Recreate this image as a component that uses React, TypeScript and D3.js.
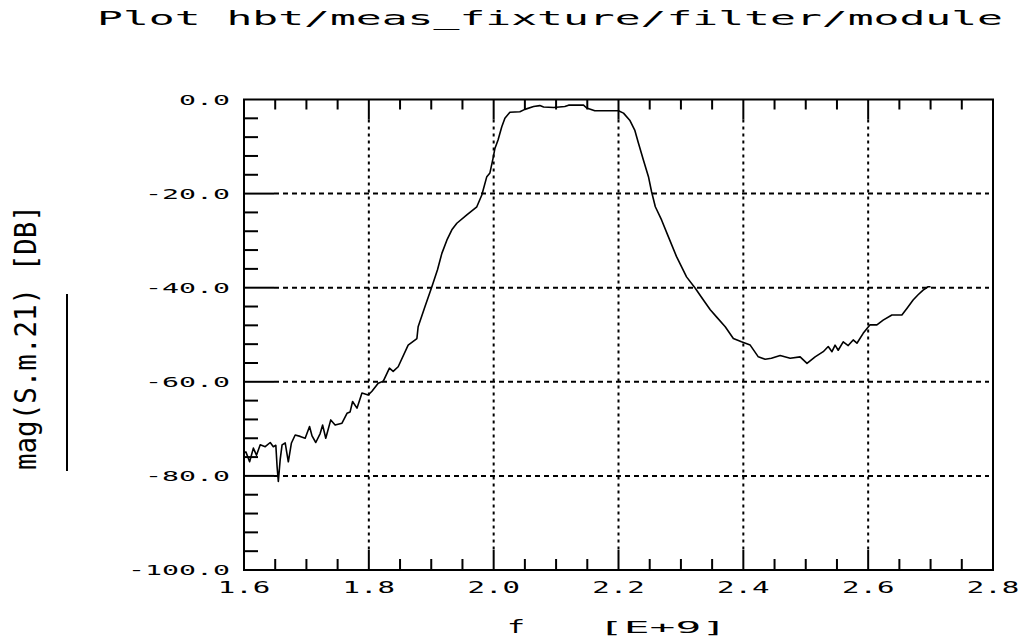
import React from "react";
import * as d3 from "d3";

// trace: frequency in GHz, |S21| in dB
const freqGHz = [
  1.6, 1.603, 1.609, 1.615, 1.62, 1.626, 1.634, 1.642, 1.647, 1.651, 1.653, 1.655,
  1.658, 1.661, 1.666, 1.671, 1.676, 1.682, 1.69, 1.698, 1.705, 1.709, 1.715, 1.722,
  1.726, 1.731, 1.739, 1.746, 1.757, 1.765, 1.77, 1.774, 1.781, 1.789, 1.799, 1.805,
  1.815, 1.823, 1.833, 1.839, 1.847, 1.863, 1.877, 1.879, 1.89, 1.901, 1.91, 1.917,
  1.925, 1.933, 1.941, 1.957, 1.973, 1.981, 1.989, 1.994, 1.999, 2.002, 2.007, 2.013,
  2.018, 2.026, 2.042, 2.05, 2.064, 2.074, 2.08, 2.096, 2.114, 2.12, 2.144, 2.149,
  2.162, 2.181, 2.2, 2.208, 2.218, 2.226, 2.232, 2.24, 2.248, 2.253, 2.259, 2.269,
  2.28, 2.293, 2.309, 2.323, 2.336, 2.347, 2.357, 2.371, 2.384, 2.397, 2.411, 2.424,
  2.435, 2.445, 2.459, 2.475, 2.491, 2.502, 2.515, 2.528, 2.536, 2.542, 2.547, 2.552,
  2.56, 2.568, 2.576, 2.582, 2.592, 2.603, 2.614, 2.624, 2.638, 2.654, 2.662, 2.672,
  2.68, 2.688, 2.696, 2.7,
];
const magDb = [
  -75.1, -74.9, -77.0, -74.1, -75.6, -73.4, -73.8, -72.9, -73.8, -73.5, -78.0, -81.2,
  -76.5, -73.4, -73.0, -77.0, -73.0, -71.3, -71.6, -72.0, -69.5, -71.5, -72.9, -71.0,
  -69.2, -72.0, -68.1, -69.2, -68.8, -66.7, -66.4, -64.2, -65.6, -62.4, -62.8, -62.0,
  -60.3, -59.9, -57.1, -57.8, -56.8, -52.2, -50.8, -48.3, -44.0, -39.8, -36.2, -32.7,
  -29.9, -27.7, -26.3, -24.5, -22.8, -20.3, -16.4, -15.6, -12.5, -10.4, -8.6, -5.8,
  -4.0, -2.7, -2.6, -2.1, -1.5, -1.3, -1.6, -1.7, -1.5, -1.2, -1.2, -1.8,
  -2.4, -2.4, -2.4, -2.9, -4.4, -6.5, -9.3, -12.9, -16.4, -19.6, -22.8, -25.6,
  -29.2, -33.4, -37.7, -40.1, -42.6, -44.7, -46.2, -48.3, -50.8, -51.5, -52.2, -54.7,
  -55.2, -55.0, -54.4, -55.0, -54.7, -56.1, -54.7, -53.6, -52.5, -53.6, -52.2, -53.3,
  -51.5, -52.3, -51.1, -51.8, -49.7, -47.9, -47.9, -46.9, -45.8, -45.8, -44.4, -42.6,
  -41.5, -40.5, -39.8, -39.8,
];

const xTickLabels = ["1.6", "1.8", "2.0", "2.2", "2.4", "2.6", "2.8"];
const yTickLabels = ["0.0", "-20.0", "-40.0", "-60.0", "-80.0", "-100.0"];
const title = "Plot hbt/meas_fixture/filter/module";
const yTitle = "mag(S.m.21)  [DB]";

const W = 1019, H = 639;
const left = 244, right = 993, top = 99.5, bottom = 570;
const FONT = "'DejaVu Sans Mono', 'Liberation Mono', monospace";

export default function App() {
  const x = d3.scaleLinear().domain([1.6, 2.8]).range([left, right]);
  const y = d3.scaleLinear().domain([-100, 0]).range([bottom, top]);

  const xMajor = xTickLabels.map(Number);
  const yMajor = yTickLabels.map(Number);
  const xMinor = d3.range(1.6, 2.8001, 0.05).filter(v => !xMajor.some(m => Math.abs(m - v) < 1e-6));
  const yMinor = d3.range(-100, 0.001, 4).filter(v => !yMajor.some(m => Math.abs(m - v) < 1e-6));

  const pts: [number, number][] = freqGHz.map((f, i) => [f, magDb[i]]);
  const path = d3.line<[number, number]>().x(d => x(d[0])).y(d => y(d[1]))(pts) || "";

  return (
    <svg width={W} height={H} style={{ position: "absolute", left: 0, top: 0, background: "#fff" }}
      fontFamily={FONT}>
      <text x={97} y={25} fontSize={19} textLength={906} lengthAdjust="spacingAndGlyphs">{title}</text>

      {/* grid */}
      {xMajor.slice(1, -1).map(v => (
        <g key={"gx" + v}>
          <line x1={x(v)} x2={x(v)} y1={top + 20} y2={bottom - 20} stroke="#000" strokeWidth={2} strokeDasharray="3,4" />
          <line x1={x(v)} x2={x(v)} y1={top} y2={top + 20} stroke="#000" strokeWidth={2} />
          <line x1={x(v)} x2={x(v)} y1={bottom - 20} y2={bottom} stroke="#000" strokeWidth={2} />
        </g>
      ))}
      {yMajor.slice(1, -1).map(v => (
        <g key={"gy" + v}>
          <line x1={left + 30} x2={right - 4} y1={y(v)} y2={y(v)} stroke="#000" strokeWidth={2} strokeDasharray="5,4" />
          <line x1={left} x2={left + 30} y1={y(v)} y2={y(v)} stroke="#000" strokeWidth={2} />
        </g>
      ))}
      {xMinor.map(v => (
        <g key={"mx" + v}>
          <line x1={x(v)} x2={x(v)} y1={bottom} y2={bottom - 11} stroke="#000" strokeWidth={2} />
          <line x1={x(v)} x2={x(v)} y1={top} y2={top + 10} stroke="#000" strokeWidth={2} />
        </g>
      ))}
      {yMinor.map(v => (
        <line key={"my" + v} x1={left} x2={left + 14} y1={y(v)} y2={y(v)} stroke="#000" strokeWidth={2} />
      ))}

      <rect x={left} y={top} width={right - left} height={bottom - top} fill="none" stroke="#000" strokeWidth={2} />

      <path d={path} fill="none" stroke="#000" strokeWidth={1.6} strokeLinejoin="round" />

      {/* tick labels */}
      {yTickLabels.map(t => (
        <text key={"ly" + t} x={230} y={y(Number(t)) + 5} fontSize={14} textAnchor="end"
          textLength={t.length * 17} lengthAdjust="spacingAndGlyphs">{t}</text>
      ))}
      {xTickLabels.map(t => (
        <text key={"lx" + t} x={x(Number(t))} y={593} fontSize={15} textAnchor="middle"
          textLength={t.length * 17.5} lengthAdjust="spacingAndGlyphs">{t}</text>
      ))}

      {/* axis titles */}
      <text x={516} y={633} fontSize={17} textAnchor="middle" textLength={18} lengthAdjust="spacingAndGlyphs">f</text>
      <text x={598} y={633} fontSize={16} textLength={129} lengthAdjust="spacingAndGlyphs">[E+9]</text>
      <text transform="translate(36,337.5) rotate(-90)" fontSize={30} textAnchor="middle"
        textLength={265} lengthAdjust="spacingAndGlyphs">{yTitle}</text>
      <line x1={67} x2={67} y1={294} y2={471} stroke="#000" strokeWidth={2} />
    </svg>
  );
}
